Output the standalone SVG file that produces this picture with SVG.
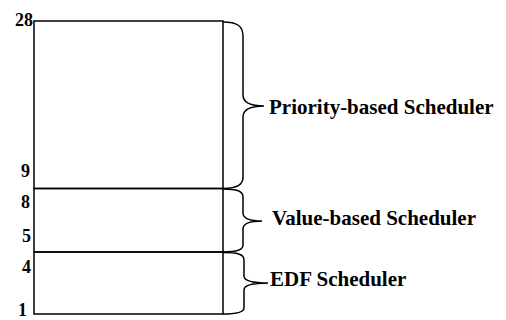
<svg xmlns="http://www.w3.org/2000/svg" width="506" height="320" viewBox="0 0 506 320">
<style>
.box{fill:none;stroke:#000;stroke-width:1.5}
.brace{fill:none;stroke:#000;stroke-width:1.5}
.num{font-family:"Liberation Serif","Times New Roman",serif;font-weight:bold;font-size:18px;fill:#000}
.lbl{font-family:"Liberation Serif","Times New Roman",serif;font-weight:bold;font-size:21px;fill:#000}
</style>
<rect width="506" height="320" fill="#fff"/>
<g id="priority-block">
<rect class="box" x="34" y="21" width="189" height="167.5"/>
</g>
<g id="value-block">
<rect class="box" x="34" y="188.5" width="189" height="63.5"/>
</g>
<g id="edf-block">
<rect class="box" x="34" y="252" width="189" height="62"/>
</g>
<g id="numbers">
<text class="num" x="33" y="26" text-anchor="end">28</text>
<text class="num" x="30" y="177" text-anchor="end">9</text>
<text class="num" x="30" y="208" text-anchor="end">8</text>
<text class="num" x="31" y="242" text-anchor="end">5</text>
<text class="num" x="31" y="273" text-anchor="end">4</text>
<text class="num" x="27" y="316" text-anchor="end">1</text>
</g>
<g id="connectors">
<path class="brace" d="M223,22 C237,22 243,26 243,36 L243,95 C243,102 249,106 264,106 C249,106 243,110 243,117 L243,177 C243,185 237,188 223,188.5"/>
<path class="brace" d="M223,189 C237,189 243,191 243,197 L243,213 C243,218 249,221 262,221 C249,221 243,224 243,229 L243,245 C243,250 237,251.5 223,252"/>
<path class="brace" d="M223,252.5 C237,252.5 244,254 244,260 L244,276 C244,280 250,283 268,283 C250,283 244,286 244,290 L244,308 C244,312 237,314 223,314"/>
</g>
<g id="priority-label"><text class="lbl" x="269" y="114">Priority-based Scheduler</text></g>
<g id="value-label"><text class="lbl" x="272" y="225">Value-based Scheduler</text></g>
<g id="edf-label"><text class="lbl" x="270" y="286">EDF Scheduler</text></g>
</svg>
